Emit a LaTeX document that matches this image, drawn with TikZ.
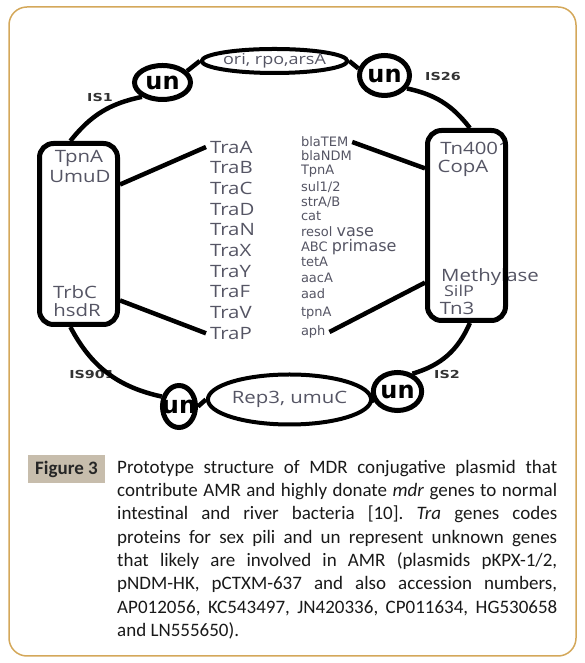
\documentclass[tikz,border=0pt]{standalone}
\usepackage{fontspec}
\setmainfont{Carlito}
\newfontfamily\trafont[FakeStretch=1.2]{Open Sans}
\newfontfamily\genefont{DejaVu Sans}
\newfontfamily\isfont[FakeStretch=1.3]{DejaVu Sans}
\usetikzlibrary{shapes.geometric}
\definecolor{framegold}{RGB}{212,168,90}
\definecolor{figtag}{RGB}{199,189,172}
\definecolor{labgray}{RGB}{85,85,100}

\begin{document}
\begin{tikzpicture}[x=1pt, y=1pt,
  link/.style={line width=4.5pt},
  genebox/.style={draw, line width=5pt, rounded corners=14pt, minimum width=78pt},
  unring/.style={ellipse, draw, line width=5pt, inner sep=0pt, font=\genefont\bfseries\fontsize{24}{24}\selectfont},
  oval/.style={ellipse, draw, line width=4pt, inner sep=0pt, text=labgray},
  tra/.style={anchor=west, inner sep=0pt, outer sep=4pt, text=labgray, font=\trafont\fontsize{17}{17}\selectfont},
  gene/.style={anchor=west, inner sep=0pt, outer sep=4pt, text=labgray, font=\genefont\fontsize{13}{13}\selectfont},
  boxlab/.style={inner sep=0pt, text=labgray, font=\trafont\fontsize{17}{17}\selectfont},
  islab/.style={inner sep=0pt, text=black!80, font=\isfont\bfseries\fontsize{11}{11}\selectfont}]
  \useasboundingbox (0,0) rectangle (584,663);
  \draw[framegold, line width=1.5pt, rounded corners=18pt] (9,7) rectangle (576,656);

  \node[boxlab] (tpnA) at (79,505) {TpnA};
  \node[boxlab] (umuD) at (80,486) {UmuD};
  \node[boxlab] (trbC) at (75,371) {TrbC};
  \node[boxlab] (hsdR) at (77,353) {hsdR};
  \node[boxlab] (tn4001) at (475,515) {Tn4001};
  \node[boxlab] (copA) at (463,495) {CopA};
  \node[boxlab] (methylase) at (490,386) {Methylase};
  \node[boxlab, font=\trafont\fontsize{15}{15}\selectfont] (silP) at (459,372) {SilP};
  \node[boxlab] (tn3) at (457,355) {Tn3};
  \node[genebox, minimum height=181pt] (leftbox) at (78.5,429) {};
  \node[genebox, minimum height=190pt] (rightbox) at (466.5,437.5) {};

  \node[oval, minimum width=121pt, minimum height=24pt, font=\trafont\fontsize{15}{15}\selectfont] (ori) at (274.5,602) {ori, rpo,arsA};
  \node[oval, minimum width=130pt, minimum height=50pt, font=\trafont\fontsize{17}{17}\selectfont] (rep) at (289.5,263.5) {Rep3, umuC};
  \node[unring, minimum width=56pt, minimum height=34pt] (unTL) at (162.5,580.5) {un};
  \node[unring, minimum width=50pt, minimum height=40pt] (unTR) at (384.5,587.5) {un};
  \node[unring, minimum width=44pt, minimum height=38pt] (unBR) at (397.5,271.5) {un};
  \node[unring, minimum width=33pt, minimum height=42pt,
    path picture={\node[font=\genefont\bfseries\fontsize{24}{24}\selectfont] at (path picture bounding box.center) {un};}] (unBL) at (179,256.5) {};

  \node[islab] (is1) at (100,565) {IS1};
  \node[islab] (is26) at (443,586) {IS26};
  \node[islab] (is901) at (92,288) {IS901};
  \node[islab] (is2) at (447,288) {IS2};

  \foreach \g [count=\i from 0] in {A,B,C,D,N,X,Y,F,V,P}
    \node[tra] (tra\g) at (206,516-20.7*\i) {Tra\g};
  \foreach \y/\g [count=\i] in {521/blaTEM, 507/blaNDM, 492/TpnA, 476/{sul1/2}, 461/{strA/B}, 447/cat,
      431/{resol {\fontsize{16}{16}\selectfont vase}}, 416/{ABC {\fontsize{16}{16}\selectfont primase}},
      401/tetA, 385/aacA, 369/aad, 350/tpnA, 331/aph}
    \node[gene] (gene\i) at (297,\y) {\g};

  \draw[link] (unTL.25) -- (ori.west);
  \draw[link] (ori.east) -- (unTR.165);
  \draw[link] (unTL.215) to[bend right=20] (leftbox.95);
  \draw[link] (unTR.-30) to[bend left=20] (rightbox.88);
  \draw[link] (leftbox.265) to[bend right=25] (unBL.150);
  \draw[link] (rightbox.272) to[bend left=25] (unBR.50);
  \draw[link] (unBL.east) -- (rep.west);
  \draw[link] (rep.east) -- (unBR.205);
  \draw[link] (leftbox.50) -- (traA.west);
  \draw[link] (leftbox.-58) -- (traP.west);
  \draw[link] (gene1.east) -- (rightbox.126);
  \draw[link] (gene13.east) -- (rightbox.234);

  \node[fill=figtag, minimum width=77pt, minimum height=28pt, inner sep=0pt, text=black!85,
    font=\bfseries\fontsize{19}{19}\selectfont] (figlabel) at (66.5,194) {Figure 3};
  \node[anchor=north west, inner sep=0pt, text width=440pt, align=justify, text=black!90,
    font=\fontsize{19}{23.3}\selectfont] (caption) at (117,203) {\hyphenpenalty=10000\frenchspacing
    Prototype structure of MDR conjugative plasmid that\linebreak
    contribute AMR and highly donate \textit{mdr} genes to normal\linebreak
    intestinal and river bacteria [10]. \textit{Tra} genes codes\linebreak
    proteins for sex pili and un represent unknown genes\linebreak
    that likely are involved in AMR (plasmids pKPX-1/2,\linebreak
    pNDM-HK, pCTXM-637 and also accession numbers,\linebreak
    AP012056, KC543497, JN420336, CP011634, HG530658\linebreak
    and LN555650).};
\end{tikzpicture}
\end{document}
